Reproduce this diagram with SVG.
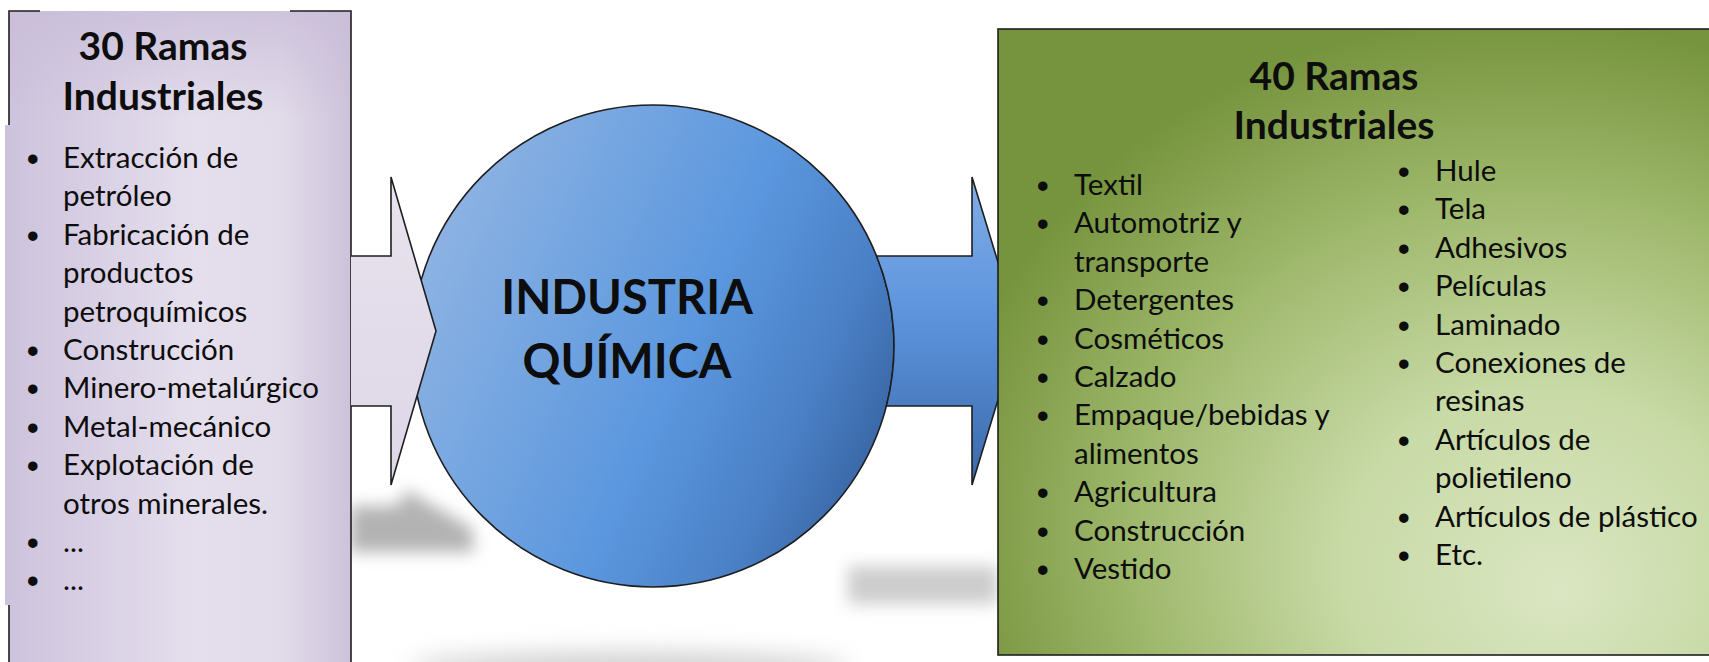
<svg xmlns="http://www.w3.org/2000/svg" width="1709" height="662" viewBox="0 0 1709 662">
<defs>
<style>
.t{font-family:Lato,"Open Sans","Liberation Sans",sans-serif;fill:#0d0d0d;}
.title{font-weight:bold;font-size:39px;text-anchor:middle;}
.item{font-size:29.5px;}
.bul{font-family:"Liberation Sans",sans-serif;font-size:33px;font-weight:bold;fill:#0d0d0d;}
.big{font-weight:bold;font-size:47px;text-anchor:middle;}
.edge{stroke:#1e1e1e;stroke-width:1.6;}
</style>
<linearGradient id="lav" gradientUnits="userSpaceOnUse" x1="5" y1="0" x2="351" y2="0">
<stop offset="0" stop-color="#cdc2dc"/>
<stop offset="0.55" stop-color="#e5dfed"/>
<stop offset="0.8" stop-color="#e2dcea"/>
<stop offset="1" stop-color="#cdc2da"/>
</linearGradient>
<linearGradient id="lavTop" x1="0" y1="0" x2="0" y2="1">
<stop offset="0" stop-color="#c9bdd8" stop-opacity="0.8"/>
<stop offset="1" stop-color="#c9bdd8" stop-opacity="0"/>
</linearGradient>
<linearGradient id="lavArrow" x1="0" y1="0" x2="0" y2="1">
<stop offset="0" stop-color="#e8e3ee"/>
<stop offset="1" stop-color="#ddd6e7"/>
</linearGradient>
<linearGradient id="circ" x1="0" y1="0.3" x2="1" y2="0.75">
<stop offset="0" stop-color="#8fb4e3"/>
<stop offset="0.55" stop-color="#5b97de"/>
<stop offset="0.8" stop-color="#4a80c6"/>
<stop offset="1" stop-color="#36619e"/>
</linearGradient>
<linearGradient id="blueArrow" x1="0" y1="0" x2="0" y2="1">
<stop offset="0" stop-color="#82ade8"/>
<stop offset="0.45" stop-color="#5c94dc"/>
<stop offset="1" stop-color="#3b69aa"/>
</linearGradient>
<radialGradient id="green" cx="0.72" cy="0.78" r="0.8" fx="0.78" fy="0.9">
<stop offset="0" stop-color="#dae6c2"/>
<stop offset="0.35" stop-color="#c8daa6"/>
<stop offset="0.7" stop-color="#9db76a"/>
<stop offset="1" stop-color="#76933d"/>
</radialGradient>
<filter id="blur" x="-50%" y="-100%" width="200%" height="300%">
<feGaussianBlur stdDeviation="8"/>
</filter>
<filter id="blur2" x="-50%" y="-200%" width="200%" height="500%">
<feGaussianBlur stdDeviation="12"/>
</filter>
</defs>

<g id="shadows">
<polygon points="350,506 398,506 406,490 472,528 474,552 350,552" fill="#b3b3b3" filter="url(#blur)"/>
<rect x="848" y="566" width="150" height="38" fill="#cdcdcd" filter="url(#blur)"/>
<ellipse cx="630" cy="668" rx="220" ry="16" fill="#d0d0d0" filter="url(#blur2)"/>
</g>

<g id="node-30-ramas">
<rect x="9" y="11" width="342" height="660" fill="url(#lav)"/>
<rect x="9" y="11" width="342" height="110" fill="url(#lavTop)"/>
<rect x="5" y="125" width="346" height="480" fill="url(#lav)"/>
<path class="edge" fill="none" d="M9,125 V11 H40 M290,11 H351 V670 M9,605 V670"/>
<text class="t title" x="163" y="60">30 Ramas</text>
<text class="t title" x="163" y="110">Industriales</text>
<g class="bul">
<text x="27" y="170">•</text>
<text x="27" y="247">•</text>
<text x="27" y="362">•</text>
<text x="27" y="400">•</text>
<text x="27" y="439">•</text>
<text x="27" y="477">•</text>
<text x="27" y="554">•</text>
<text x="27" y="592">•</text>
</g>
<g class="t item">
<text x="63" y="168">Extracción de</text>
<text x="63" y="206">petróleo</text>
<text x="63" y="245">Fabricación de</text>
<text x="63" y="283">productos</text>
<text x="63" y="322">petroquímicos</text>
<text x="63" y="360">Construcción</text>
<text x="63" y="398">Minero-metalúrgico</text>
<text x="63" y="437">Metal-mecánico</text>
<text x="63" y="475">Explotación de</text>
<text x="63" y="514">otros minerales.</text>
<text x="63" y="552">...</text>
<text x="63" y="590">...</text>
</g>
</g>

<g id="node-industria-quimica">
<circle class="edge" cx="653" cy="346" r="241" fill="url(#circ)"/>
<text class="t big" x="627" y="314">INDUSTRIA</text>
<text class="t big" x="627" y="378">QUÍMICA</text>
</g>

<g id="connectors">
<path id="arrow-in" class="edge" fill="url(#lavArrow)" stroke-linejoin="miter" d="M351,256 H391 V177 L436,331 L391,485 V406 H351"/>
<path id="arrow-out" class="edge" fill="url(#blueArrow)" stroke-linejoin="miter" d="M876.6,256 H972 V177 L1019,331 L972,485 V406 H886.4 A241,241 0 0 0 876.6,256 Z"/>
</g>

<g id="node-40-ramas">
<rect class="edge" x="998" y="29" width="720" height="626" fill="url(#green)"/>
<text class="t title" x="1334" y="90">40 Ramas</text>
<text class="t title" x="1334" y="139">Industriales</text>
<g class="bul">
<text x="1037" y="197">•</text>
<text x="1037" y="235">•</text>
<text x="1037" y="312">•</text>
<text x="1037" y="351">•</text>
<text x="1037" y="389">•</text>
<text x="1037" y="427">•</text>
<text x="1037" y="504">•</text>
<text x="1037" y="543">•</text>
<text x="1037" y="581">•</text>
<text x="1398" y="183">•</text>
<text x="1398" y="221">•</text>
<text x="1398" y="260">•</text>
<text x="1398" y="298">•</text>
<text x="1398" y="337">•</text>
<text x="1398" y="375">•</text>
<text x="1398" y="452">•</text>
<text x="1398" y="529">•</text>
<text x="1398" y="567">•</text>
</g>
<g class="t item">
<text x="1074" y="195">Textil</text>
<text x="1074" y="233">Automotriz y</text>
<text x="1074" y="272">transporte</text>
<text x="1074" y="310">Detergentes</text>
<text x="1074" y="349">Cosméticos</text>
<text x="1074" y="387">Calzado</text>
<text x="1074" y="425">Empaque/bebidas y</text>
<text x="1074" y="464">alimentos</text>
<text x="1074" y="502">Agricultura</text>
<text x="1074" y="541">Construcción</text>
<text x="1074" y="579">Vestido</text>
<text x="1435" y="181">Hule</text>
<text x="1435" y="219">Tela</text>
<text x="1435" y="258">Adhesivos</text>
<text x="1435" y="296">Películas</text>
<text x="1435" y="335">Laminado</text>
<text x="1435" y="373">Conexiones de</text>
<text x="1435" y="411">resinas</text>
<text x="1435" y="450">Artículos de</text>
<text x="1435" y="488">polietileno</text>
<text x="1435" y="527">Artículos de plástico</text>
<text x="1435" y="565">Etc.</text>
</g>
</g>
</svg>
